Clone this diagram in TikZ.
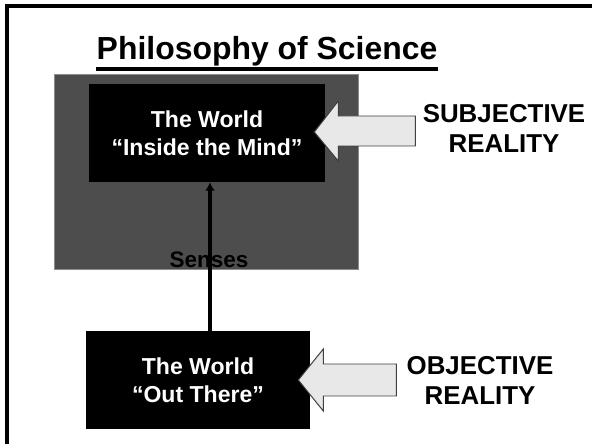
\documentclass[tikz,border=0pt]{standalone}
\usepackage{fontspec}
\setmainfont{Liberation Sans}
\usetikzlibrary{arrows.meta,calc,positioning}
\definecolor{slate}{HTML}{4D4D4D}
\definecolor{rim}{HTML}{8C8C8C}
\definecolor{pale}{HTML}{E8E8E8}
\definecolor{edge}{HTML}{404040}

\begin{document}
\begin{tikzpicture}[x=0.025cm,y=-0.025cm,>=Latex,
  world/.style={fill=black,text=white,align=center,inner sep=0pt,minimum width=#1,minimum height=2.45cm,font=\bfseries\fontsize{16.4}{19.9}\selectfont},
  reality/.style={align=center,font=\bfseries\fontsize{18.4}{21.3}\selectfont},
  bigarrow/.style={fill=pale,draw=edge,line width=0.7pt}]
\useasboundingbox (0,0) rectangle (592,444);
% slide frame, cut off at right and bottom
\draw[line width=2.2pt] (7,444) -- (7,6) -- (592,6);
\node[font=\bfseries\fontsize{22.7}{27}\selectfont,inner sep=0pt,anchor=base] (title) at (267,60) {Philosophy of Science};
\draw[line width=2.8pt] ($(title.south west)+(0,2)$) -- ($(title.south east)+(0,2)$);
% the mind
\node[fill=slate,draw=rim,line width=0.6pt,minimum width=7.6cm,minimum height=4.875cm,inner sep=0pt] (mindbg) at (206,171.5) {};
\node[world=5.9cm] (inner) at (207,133) {The World\\“Inside the Mind”};
\node[font=\bfseries\fontsize{16}{19}\selectfont,inner sep=0pt] (senses) at (209,260) {Senses};
% the world out there
\node[world=5.6cm] (outer) at (198,380) {The World\\“Out There”};
\draw[-{Latex[length=6pt,width=7pt]},line width=2.2pt] ([xshift=0.075cm]outer.north -| inner.south) -- ([xshift=0.075cm]inner.south);
% block arrows
\draw[bigarrow] ($(inner.east)+(-11,-1)$) coordinate (tipa) -- ++(24,-31) -- ++(0,15) -- ++(77,0) -- ++(0,30) -- ++(-77,0) -- ++(0,15) -- cycle;
\draw[bigarrow] ($(outer.east)+(-12,0)$) coordinate (tipb) -- ++(25,-31) -- ++(0,15) -- ++(73,0) -- ++(0,32) -- ++(-73,0) -- ++(0,15) -- cycle;
\node[reality] (subj) at (504,128) {SUBJECTIVE\\REALITY};
\node[reality] (obj) at (480,380) {OBJECTIVE\\REALITY};
\end{tikzpicture}
\end{document}
